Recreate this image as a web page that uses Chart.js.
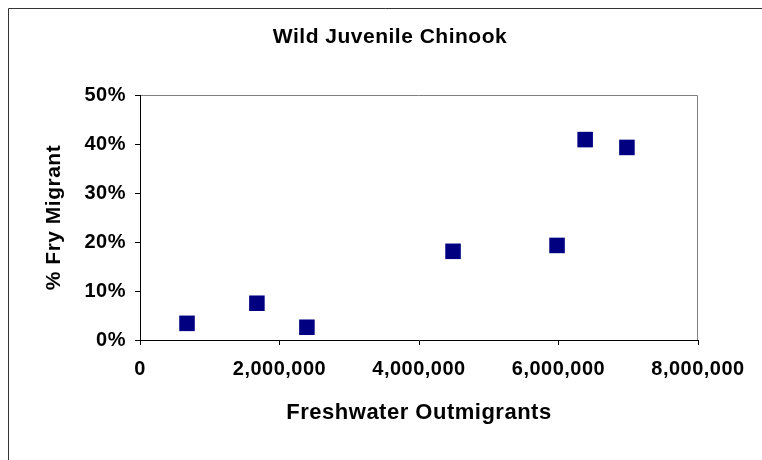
<!DOCTYPE html>
<html>
<head>
<meta charset="utf-8">
<script src="https://cdn.jsdelivr.net/npm/chart.js@4"></script>
<style>
    html, body { margin: 0; padding: 0; background: #fff; }
    #wrap { width: 762px; height: 460px; position: relative; }
</style>
</head>
<body>
<div id="wrap"><canvas id="chinookChart" width="762" height="460"></canvas></div>
<script>
// Données
const outmigrants = [674000, 1676000, 2393000, 4488000, 5979000, 6382000, 6981000];
const fryPercent = [0.034, 0.075, 0.026, 0.181, 0.193, 0.409, 0.393];
const xTicks = [0, 2000000, 4000000, 6000000, 8000000];
const yTicks = [0, 0.1, 0.2, 0.3, 0.4, 0.5];

const FONT = "'Liberation Sans', Arial, sans-serif";
const SPACING = '0.5px';

// Cadre extérieur + contour gris de la zone de tracé
const framePlugin = {
    id: 'frame',
    beforeLayout(chart) {
        chart.ctx.letterSpacing = SPACING;
    },
    beforeDraw(chart) {
        const ctx = chart.ctx;
        const a = chart.chartArea;
        ctx.save();
        ctx.strokeStyle = '#333';
        ctx.lineWidth = 1;
        ctx.beginPath();
        ctx.moveTo(8.5, 460);
        ctx.lineTo(8.5, 8.5);
        ctx.lineTo(762, 8.5);
        ctx.stroke();
        ctx.strokeStyle = '#808080';
        ctx.beginPath();
        ctx.moveTo(a.left, a.top + 0.5);
        ctx.lineTo(a.right - 0.5, a.top + 0.5);
        ctx.lineTo(a.right - 0.5, a.bottom);
        ctx.stroke();
        ctx.restore();
        // léger espacement des lettres pour tous les textes
        ctx.letterSpacing = SPACING;
    }
};

const data = outmigrants.map((x, i) => ({ x: x, y: fryPercent[i] }));

new Chart(document.getElementById('chinookChart').getContext('2d'), {
    type: 'scatter',
    data: {
        datasets: [{
            label: 'Wild Juvenile Chinook',
            data: data,
            pointStyle: 'rect',
            pointRadius: 11,
            pointHoverRadius: 11,
            backgroundColor: '#000080',
            borderColor: '#000080',
            borderWidth: 0
        }]
    },
    options: {
        responsive: false,
        animation: false,
        layout: { padding: { left: 18, right: 0, top: 0, bottom: 0 } },
        plugins: {
            legend: { display: false },
            tooltip: { enabled: false },
            title: {
                display: true,
                text: 'Wild Juvenile Chinook',
                color: '#000',
                font: { family: FONT, size: 21, weight: 'bold' },
                padding: { top: 25, bottom: 44.8 }
            }
        },
        scales: {
            x: {
                type: 'linear',
                min: 0,
                max: 8000000,
                afterBuildTicks: scale => { scale.ticks = xTicks.map(v => ({ value: v })); },
                afterFit: scale => { scale.height = 120; },
                ticks: {
                    color: '#000',
                    font: { family: FONT, size: 20, weight: 'bold' },
                    padding: 12,
                    maxRotation: 0,
                    callback: v => v.toLocaleString('en-US')
                },
                grid: { drawOnChartArea: false, tickLength: 5, color: '#000' },
                border: { color: '#000', width: 1 },
                title: {
                    display: true,
                    text: 'Freshwater Outmigrants',
                    color: '#000',
                    font: { family: FONT, size: 22, weight: 'bold' },
                    padding: { top: 0, bottom: 34 }
                }
            },
            y: {
                type: 'linear',
                min: 0,
                max: 0.5,
                afterBuildTicks: scale => { scale.ticks = yTicks.map(v => ({ value: v })); },
                afterFit: scale => { scale.width = 122; },
                ticks: {
                    color: '#000',
                    font: { family: FONT, size: 20, weight: 'bold' },
                    padding: 9,
                    callback: v => Math.round(v * 100) + '%'
                },
                grid: { drawOnChartArea: false, tickLength: 5, color: '#000' },
                border: { color: '#000', width: 1 },
                title: {
                    display: true,
                    text: '% Fry Migrant',
                    color: '#000',
                    font: { family: FONT, size: 21, weight: 'bold' },
                    padding: { top: 24, bottom: 0 }
                }
            },
            // axe vide à droite pour réserver la marge
            yRight: {
                type: 'linear',
                position: 'right',
                display: true,
                min: 0,
                max: 0.5,
                afterFit: scale => { scale.width = 64; },
                ticks: { display: false },
                grid: { display: false },
                border: { display: false }
            }
        }
    },
    plugins: [framePlugin]
});
</script>
</body>
</html>
